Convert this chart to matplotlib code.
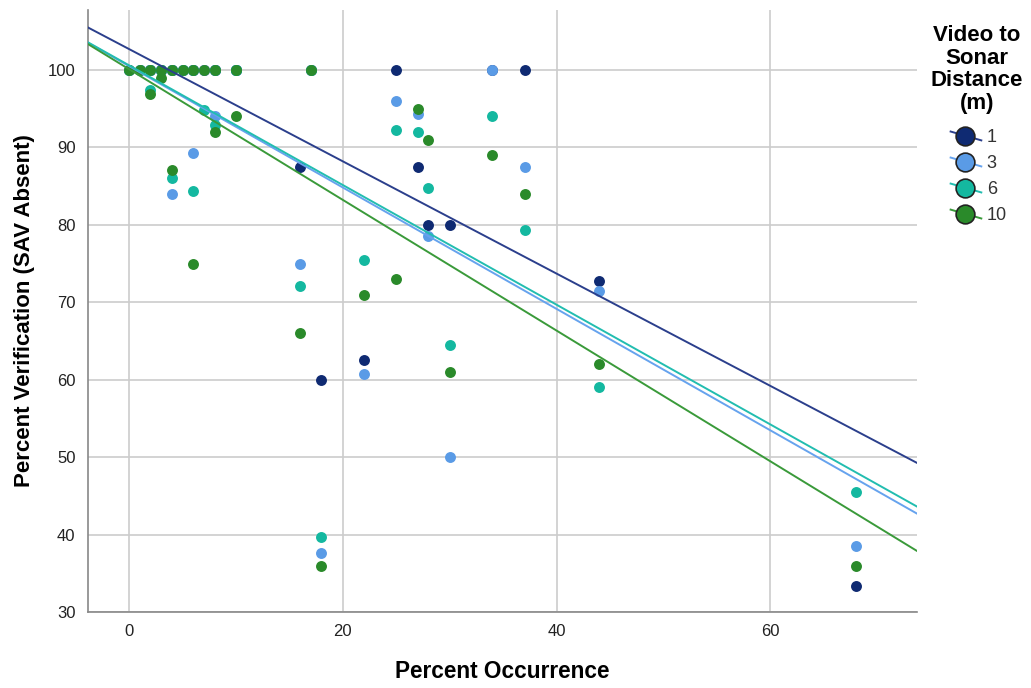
import numpy as np
import matplotlib
matplotlib.use('Agg')
import matplotlib.pyplot as plt
from matplotlib.lines import Line2D
from matplotlib.legend_handler import HandlerBase

plt.rcParams['font.family'] = ['Liberation Sans', 'DejaVu Sans']

# percent occurrence of each site (x)
occurrence = [0, 1, 2, 2, 3, 3, 4, 4, 5, 6, 6, 7, 8, 8, 10, 10,
              16, 17, 18, 22, 25, 27, 28, 30, 34, 37, 44, 68]

# percent verification (SAV absent) per video-to-sonar distance
dist_labels = ['1', '3', '6', '10']
verif_1 = [100, 100, 100, 100, 100, 100, 100, 100, 100, 100, 100, 100, 100, 100, 100, 100,
           87.5, 100, 60, 62.5, 100, 87.5, 80, 80, 100, 100, 72.7, 33.3]
verif_3 = [100, 100, 100, 100, 100, 100, 100, 84, 100, 100, 89.3, 100, 100, 94, 100, 100,
           75, 100, 37.6, 60.7, 96, 94.3, 78.6, 50, 100, 87.5, 71.5, 38.5]
verif_6 = [100, 100, 100, 97.4, 100, 100, 100, 86.1, 100, 100, 84.4, 94.8, 100, 92.9, 100, 100,
           72.1, 100, 39.7, 75.5, 92.3, 92, 84.8, 64.5, 94, 79.3, 59, 45.5]
verif_10 = [100, 100, 100, 96.9, 100, 99, 100, 87.1, 100, 100, 75, 100, 100, 92, 100, 94,
            66, 100, 36, 71, 73, 95, 91, 61, 89, 84, 62, 36]

# fitted lines (intercept, slope)
fit_intercept = [102.7, 100.5, 100.6, 100.1]
fit_slope = [-0.725, -0.784, -0.773, -0.844]

dot_colors = ['#0f2a72', '#5a9be6', '#14b8a0', '#2a8a2a']
line_colors = ['#2b3f8c', '#66a3ee', '#22bdb0', '#3a9a3a']

fig = plt.figure(figsize=(10.31, 6.88), dpi=100)
ax = fig.add_axes([0.0854, 0.1105, 0.8036, 0.875])

series = [verif_1, verif_3, verif_6, verif_10]
xmin, xmax = -3.84, 73.68
for i, ys in enumerate(series):
    ax.scatter(occurrence, ys, s=62, color=dot_colors[i], linewidths=0, zorder=2)
for i in range(4):
    xs = np.array([xmin, xmax])
    ax.plot(xs, fit_intercept[i] + fit_slope[i] * xs, color=line_colors[i], lw=1.4, zorder=3)

ax.set_xlim(xmin, xmax)
ax.set_ylim(30, 107.75)
ax.set_xticks([0, 20, 40, 60])
ax.set_yticks(range(30, 101, 10))
ax.grid(True, color='#cccccc', lw=1.2)
ax.set_axisbelow(True)
for s in ['top', 'right']:
    ax.spines[s].set_visible(False)
for s in ['left', 'bottom']:
    ax.spines[s].set_color('#888888')
    ax.spines[s].set_linewidth(1.2)
ax.tick_params(length=0, labelsize=12, colors='#222222', pad=9)
ax.set_xlabel('Percent Occurrence', fontsize=16.3, fontweight='bold', labelpad=15)
ax.set_ylabel('Percent Verification (SAV Absent)', fontsize=16, fontweight='bold', labelpad=9)


class DiagHandler(HandlerBase):
    def create_artists(self, legend, orig_handle, xdescent, ydescent, width, height, fontsize, trans):
        c = orig_handle.get_color()
        ln = Line2D([0.1 * width, 0.95 * width], [0.85 * height, 0.15 * height],
                    color=c, lw=1.4, transform=trans)
        mk = Line2D([0.5 * width], [0.5 * height], marker='o', markersize=13.5,
                    markerfacecolor=orig_handle.get_markerfacecolor(),
                    markeredgecolor='#222222', markeredgewidth=1.2, ls='none', transform=trans)
        return [ln, mk]


handles = [Line2D([], [], color=line_colors[i], marker='o', markerfacecolor=dot_colors[i])
           for i in range(4)]
leg = fig.legend(handles, dist_labels, loc='upper left', bbox_to_anchor=(0.887, 0.987),
                 frameon=False, title='Video to\nSonar\nDistance\n(m)',
                 title_fontproperties={'size': 16, 'weight': 'bold'},
                 fontsize=13, handler_map={Line2D: DiagHandler()},
                 handlelength=2.0, handletextpad=0.2, labelspacing=0.5,
                 alignment='center')
for t in leg.get_texts():
    t.set_color('#333333')
leg.get_title().set_multialignment('center')
leg.get_title().set_linespacing(1.1)
# a bit more room between the title and the entries
leg._legend_box.sep = 11

fig.savefig('out.png', dpi=100)
